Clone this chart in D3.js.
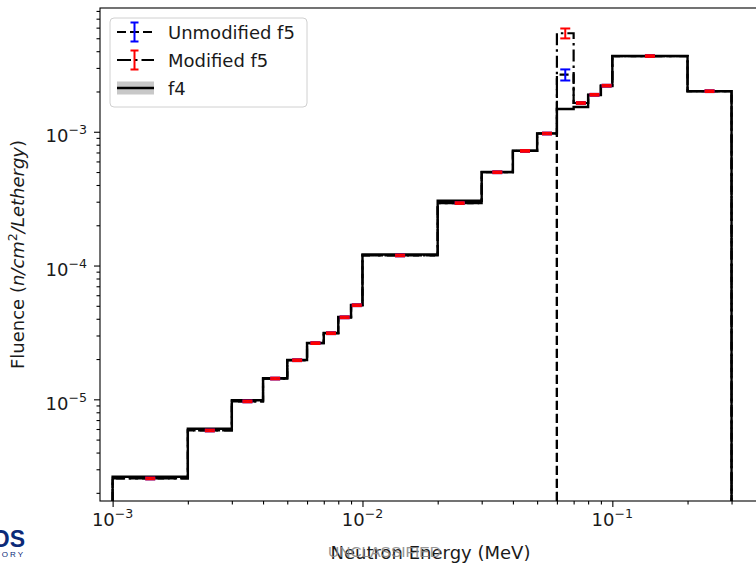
<!DOCTYPE html>
<html>
<head>
<meta charset="utf-8">
<script src="https://d3js.org/d3.v7.min.js"></script>
<style>
body { margin: 0; background: #fff; }
svg { display: block; font-family: 'DejaVu Sans', sans-serif; }
</style>
</head>
<body>
<svg id="chart"></svg>
<script>

// Bin edges (MeV)
var edges = [0.001, 0.002, 0.003, 0.004, 0.005, 0.006, 0.007, 0.008, 0.009, 0.01,
             0.02, 0.03, 0.04, 0.05, 0.06, 0.07, 0.08, 0.09, 0.1, 0.2, 0.3];

// f4 tally, one value per bin
var f4 = [2.64e-6, 6.03e-6, 9.83e-6, 1.44e-5, 1.97e-5, 2.64e-5, 3.13e-5, 4.12e-5, 5.07e-5, 1.21e-4,
          3.05e-4, 5.0e-4, 7.21e-4, 9.73e-4, 1.48e-3, 1.53e-3, 1.88e-3, 2.20e-3, 3.68e-3, 2.01e-3];

// f5 tallies
var f5Modified = [2.56e-6, 5.85e-6, 9.65e-6, 1.43e-5, 1.96e-5, 2.63e-5, 3.12e-5, 4.1e-5, 5.05e-5, 1.19e-4,
                  2.93e-4, 4.98e-4, 7.19e-4, 9.7e-4, 5.45e-3, 1.64e-3, 1.89e-3, 2.21e-3, 3.68e-3, 2.01e-3];
var f5Unmodified = [2.56e-6, 5.85e-6, 9.65e-6, 1.43e-5, 1.96e-5, 2.63e-5, 3.12e-5, 4.1e-5, 5.05e-5, 1.19e-4,
                    2.93e-4, 4.98e-4, 7.19e-4, 9.7e-4, 2.67e-3, 1.64e-3, 1.89e-3, 2.21e-3, 3.68e-3, 2.01e-3];

// relative errors
var errModified = [0.015, 0.015, 0.015, 0.015, 0.015, 0.015, 0.015, 0.015, 0.015, 0.015,
                   0.015, 0.015, 0.015, 0.015, 0.085, 0.015, 0.015, 0.015, 0.015, 0.015];
var errUnmodified = [0.015, 0.015, 0.015, 0.015, 0.015, 0.015, 0.015, 0.015, 0.015, 0.015,
                     0.015, 0.015, 0.015, 0.015, 0.095, 0.015, 0.015, 0.015, 0.015, 0.015];

// the unmodified f5 curve is drawn in two pieces, split here
var unmodBreak = 0.06;

var xTicks = [1e-3, 1e-2, 1e-1];
var xTickExp = ["-3", "-2", "-1"];
var yTicks = [1e-5, 1e-4, 1e-3];
var yTickExp = ["-5", "-4", "-3"];

var legendLabels = ["Unmodified f5", "Modified f5", "f4"];

var width = 756, height = 565;
var pLeft = 100, pRight = 761, pTop = 8, pBottom = 501;

var svg = d3.select("#chart").attr("width", width).attr("height", height);

var x = d3.scaleLog().domain([Math.pow(10, -3.0505), Math.pow(10, -0.405)]).range([pLeft, pRight]);
var y = d3.scaleLog().domain([Math.pow(10, -5.76), Math.pow(10, -2.075)]).range([pBottom, pTop]);

var yFloor = y.domain()[0];

// step outline that starts and ends on the floor
function stepPoints(vals, lo, hi) {
    var pts = [[edges[lo], yFloor]];
    for (var i = lo; i < hi; i++) {
        pts.push([edges[i], vals[i]]);
        pts.push([edges[i + 1], vals[i]]);
    }
    pts.push([edges[hi], yFloor]);
    return pts;
}

var line = d3.line().x(function (d) { return x(d[0]); }).y(function (d) { return y(d[1]); });

var plot = svg.append("g");
plot.append("clipPath").attr("id", "clip")
    .append("rect").attr("x", pLeft).attr("y", pTop).attr("width", pRight - pLeft).attr("height", pBottom - pTop);
var g = plot.append("g").attr("clip-path", "url(#clip)");

var nb = edges.length - 1;
var breakIdx = edges.indexOf(unmodBreak);

// f5 unmodified (dashed)
g.append("path").attr("d", line(stepPoints(f5Unmodified, 0, breakIdx)))
    .attr("fill", "none").attr("stroke", "#000").attr("stroke-width", 2.2).attr("stroke-dasharray", "9,4");
g.append("path").attr("d", line(stepPoints(f5Unmodified, breakIdx, nb)))
    .attr("fill", "none").attr("stroke", "#000").attr("stroke-width", 2.2).attr("stroke-dasharray", "9,4");

// f5 modified (dash-dot)
g.append("path").attr("d", line(stepPoints(f5Modified, 0, nb)))
    .attr("fill", "none").attr("stroke", "#000").attr("stroke-width", 2.2).attr("stroke-dasharray", "12,4,2.5,4");

// f4 (solid)
g.append("path").attr("d", line(stepPoints(f4, 0, nb)))
    .attr("fill", "none").attr("stroke", "#000").attr("stroke-width", 2.4);

// error bars at the geometric bin centre
function errorBars(vals, errs, color) {
    var cap = 5;
    for (var i = 0; i < nb; i++) {
        var cx = x(Math.sqrt(edges[i] * edges[i + 1]));
        var y0 = y(vals[i] * (1 - errs[i])), y1 = y(vals[i] * (1 + errs[i]));
        g.append("line").attr("x1", cx).attr("x2", cx).attr("y1", y0).attr("y2", y1)
            .attr("stroke", color).attr("stroke-width", 2);
        g.append("line").attr("x1", cx - cap).attr("x2", cx + cap).attr("y1", y0).attr("y2", y0)
            .attr("stroke", color).attr("stroke-width", 2);
        g.append("line").attr("x1", cx - cap).attr("x2", cx + cap).attr("y1", y1).attr("y2", y1)
            .attr("stroke", color).attr("stroke-width", 2);
    }
}
errorBars(f5Unmodified, errUnmodified, "#0000ff");
errorBars(f5Modified, errModified, "#ff0000");

// axes
var xMinor = [], yMinor = [];
[1e-3, 1e-2, 1e-1].forEach(function (d) {
    for (var k = 2; k <= 9; k++) xMinor.push(d * k);
});
[1e-6, 1e-5, 1e-4, 1e-3].forEach(function (d) {
    for (var k = 2; k <= 9; k++) yMinor.push(d * k);
});
xMinor = xMinor.filter(function (v) { return x(v) >= pLeft && x(v) <= pRight; });
yMinor = yMinor.filter(function (v) { return y(v) <= pBottom && y(v) >= pTop; });

svg.append("g").attr("transform", "translate(0," + pBottom + ")")
    .call(d3.axisBottom(x).tickValues(xTicks).tickSize(6).tickFormat(""));
svg.append("g").attr("transform", "translate(0," + pBottom + ")")
    .call(d3.axisBottom(x).tickValues(xMinor).tickSize(3.5).tickFormat(""));
svg.append("g").attr("transform", "translate(" + pLeft + ",0)")
    .call(d3.axisLeft(y).tickValues(yTicks).tickSize(6).tickFormat(""));
svg.append("g").attr("transform", "translate(" + pLeft + ",0)")
    .call(d3.axisLeft(y).tickValues(yMinor).tickSize(3.5).tickFormat(""));

svg.selectAll(".domain").remove();
svg.selectAll(".tick line").attr("stroke", "#000").attr("stroke-width", 1.1);

// spines
svg.append("rect").attr("x", pLeft).attr("y", pTop).attr("width", pRight - pLeft).attr("height", pBottom - pTop)
    .attr("fill", "none").attr("stroke", "#000").attr("stroke-width", 1.1);

// tick labels with superscript exponents
xTicks.forEach(function (v, i) {
    var t = svg.append("text").attr("x", x(v)).attr("y", pBottom + 25)
        .attr("text-anchor", "middle").attr("font-size", 18).attr("fill", "#1a1a1a");
    t.append("tspan").text("10");
    t.append("tspan").attr("dy", -8).attr("font-size", 12.6).text("\u2212" + xTickExp[i].slice(1));
});
yTicks.forEach(function (v, i) {
    var t = svg.append("text").attr("x", pLeft - 13).attr("y", y(v) + 10.5)
        .attr("text-anchor", "end").attr("font-size", 18).attr("fill", "#1a1a1a");
    t.append("tspan").text("10");
    t.append("tspan").attr("dy", -8).attr("font-size", 12.6).text("\u2212" + yTickExp[i].slice(1));
});

// axis labels
svg.append("text").attr("x", (pLeft + pRight) / 2).attr("y", 559)
    .attr("text-anchor", "middle").attr("font-size", 18).attr("fill", "#1a1a1a")
    .text("Neutron Energy (MeV)");

var yl = svg.append("text").attr("transform", "translate(24," + ((pTop + pBottom) / 2) + ") rotate(-90)")
    .attr("text-anchor", "middle").attr("font-size", 18).attr("fill", "#1a1a1a");
yl.append("tspan").text("Fluence (");
yl.append("tspan").attr("font-style", "italic").text("n/cm");
yl.append("tspan").attr("font-size", 12.6).attr("dy", -7).text("2");
yl.append("tspan").attr("font-style", "italic").attr("dy", 7).text("/Lethergy");
yl.append("tspan").text(")");

// slide overlay: classification and logo fragment
svg.append("text").attr("x", 328).attr("y", 557).attr("font-family", "'Liberation Sans', Arial, sans-serif")
    .attr("font-size", 15.5).attr("fill", "#8a8a8a").attr("opacity", 0.9).text("UNCLASSIFIED");
svg.append("text").attr("x", 25).attr("y", 547).attr("text-anchor", "end")
    .attr("font-family", "'Liberation Sans', Arial, sans-serif").attr("font-weight", "bold")
    .attr("font-size", 23).attr("fill", "#0b2a78").text("LOS ALAMOS");
svg.append("text").attr("x", 25).attr("y", 556.5).attr("text-anchor", "end")
    .attr("font-family", "'Liberation Sans', Arial, sans-serif")
    .attr("font-size", 8).attr("letter-spacing", 2).attr("fill", "#0b2a78").text("NATIONAL LABORATORY");

// legend
var lg = svg.append("g");
lg.append("rect").attr("x", 110).attr("y", 18).attr("width", 197).attr("height", 89)
    .attr("rx", 4).attr("fill", "#fff").attr("fill-opacity", 0.8)
    .attr("stroke", "#d0d0d0").attr("stroke-width", 1);

var rows = [32, 60, 88];
var hx0 = 117, hx1 = 154, hxc = 134.5;

// unmodified
lg.append("line").attr("x1", hx0).attr("x2", hx1).attr("y1", rows[0]).attr("y2", rows[0])
    .attr("stroke", "#000").attr("stroke-width", 2.2).attr("stroke-dasharray", "9,4");
lg.append("line").attr("x1", hxc).attr("x2", hxc).attr("y1", rows[0] - 9.5).attr("y2", rows[0] + 9.5)
    .attr("stroke", "#0000ff").attr("stroke-width", 2);
[-9.5, 9.5].forEach(function (o) {
    lg.append("line").attr("x1", hxc - 4).attr("x2", hxc + 4).attr("y1", rows[0] + o).attr("y2", rows[0] + o)
        .attr("stroke", "#0000ff").attr("stroke-width", 2);
});
// modified
lg.append("line").attr("x1", hx0).attr("x2", hx1).attr("y1", rows[1]).attr("y2", rows[1])
    .attr("stroke", "#000").attr("stroke-width", 2.2).attr("stroke-dasharray", "14,4,2.5,4");
lg.append("line").attr("x1", hxc).attr("x2", hxc).attr("y1", rows[1] - 9.5).attr("y2", rows[1] + 9.5)
    .attr("stroke", "#ff0000").attr("stroke-width", 2);
[-9.5, 9.5].forEach(function (o) {
    lg.append("line").attr("x1", hxc - 4).attr("x2", hxc + 4).attr("y1", rows[1] + o).attr("y2", rows[1] + o)
        .attr("stroke", "#ff0000").attr("stroke-width", 2);
});
// f4
lg.append("rect").attr("x", hx0).attr("y", rows[2] - 6.5).attr("width", hx1 - hx0).attr("height", 13)
    .attr("fill", "#c8c8c8");
lg.append("line").attr("x1", hx0).attr("x2", hx1).attr("y1", rows[2]).attr("y2", rows[2])
    .attr("stroke", "#000").attr("stroke-width", 2.4);

legendLabels.forEach(function (s, i) {
    lg.append("text").attr("x", 168).attr("y", rows[i] + 6.5).attr("font-size", 18)
        .attr("fill", "#1a1a1a").text(s);
});

</script>
</body>
</html>
